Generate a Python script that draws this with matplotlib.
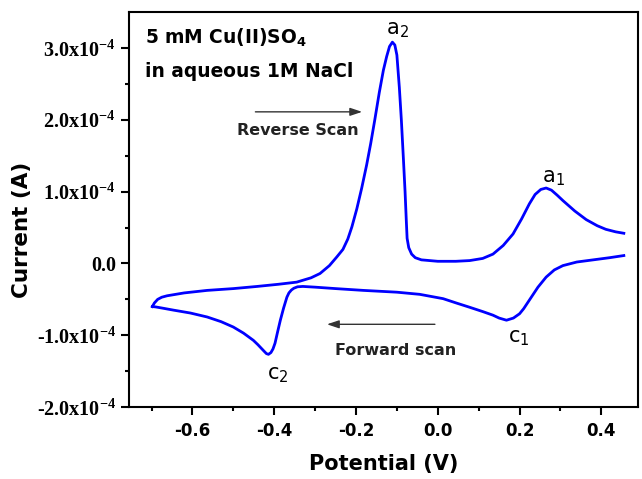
import numpy as np
import matplotlib
matplotlib.use('Agg')
import matplotlib.pyplot as plt

plt.rcParams['font.family'] = ['DejaVu Sans']
plt.rcParams['mathtext.fontset'] = 'custom'
plt.rcParams['mathtext.rm'] = 'Liberation Serif:bold'
plt.rcParams['mathtext.sf'] = 'DejaVu Sans'
plt.rcParams['mathtext.bf'] = 'DejaVu Sans:bold'

# forward (cathodic) scan, potential in V, current in 1e-4 A
fwd_v = [0.455, 0.42, 0.38, 0.34, 0.306, 0.285, 0.265, 0.245, 0.224, 0.21, 0.2, 0.185,
         0.168, 0.15, 0.135, 0.11, 0.078, 0.045, 0.013, -0.044, -0.1, -0.182, -0.25,
         -0.30, -0.33, -0.343, -0.352, -0.358, -0.364, -0.369, -0.377, -0.385, -0.392,
         -0.398, -0.403, -0.408, -0.414, -0.419, -0.425, -0.44, -0.451, -0.475, -0.5,
         -0.53, -0.564, -0.605, -0.646, -0.675, -0.69, -0.698]
fwd_i = [0.11, 0.08, 0.05, 0.02, -0.03, -0.09, -0.19, -0.33, -0.51, -0.63, -0.70, -0.76,
         -0.79, -0.76, -0.72, -0.67, -0.61, -0.55, -0.49, -0.43, -0.40, -0.375, -0.35,
         -0.33, -0.32, -0.325, -0.345, -0.37, -0.41, -0.47, -0.62, -0.79, -0.96,
         -1.11, -1.19, -1.24, -1.265, -1.255, -1.22, -1.13, -1.07, -0.97, -0.885,
         -0.81, -0.745, -0.69, -0.65, -0.62, -0.605, -0.60]

# reverse (anodic) scan
rev_v = [-0.698, -0.693, -0.685, -0.675, -0.662, -0.62, -0.564, -0.5, -0.442, -0.39,
         -0.345, -0.31, -0.288, -0.265, -0.247, -0.232, -0.22, -0.21, -0.198, -0.186,
         -0.174, -0.164, -0.154, -0.143, -0.133, -0.125, -0.118, -0.111, -0.105, -0.1,
         -0.094, -0.089, -0.084, -0.08, -0.077, -0.075, -0.071, -0.064, -0.055, -0.04,
         0.0, 0.044, 0.078, 0.11, 0.135, 0.16, 0.184, 0.205, 0.224, 0.238, 0.252, 0.265,
         0.278, 0.292, 0.306, 0.335, 0.363, 0.39, 0.411, 0.435, 0.455]
rev_i = [-0.60, -0.55, -0.50, -0.47, -0.45, -0.41, -0.375, -0.35, -0.32, -0.29,
         -0.26, -0.20, -0.14, -0.03, 0.09, 0.195, 0.34, 0.51, 0.76, 1.05,
         1.37, 1.67, 2.0, 2.38, 2.69, 2.88, 3.02, 3.08, 3.04, 2.9,
         2.45, 1.99, 1.45, 1.0, 0.6, 0.35, 0.22, 0.13, 0.08, 0.05,
         0.03, 0.03, 0.04, 0.07, 0.13, 0.25, 0.41, 0.62, 0.83, 0.96, 1.03, 1.05,
         1.02, 0.95, 0.875, 0.73, 0.61, 0.525, 0.475, 0.44, 0.42]

yticks = [-2e-4, -1e-4, 0.0, 1e-4, 2e-4, 3e-4]
ylabels = ['-2.0x10$^{\\mathrm{-4}}$', '-1.0x10$^{\\mathrm{-4}}$', '0.0',
           '1.0x10$^{\\mathrm{-4}}$', '2.0x10$^{\\mathrm{-4}}$', '3.0x10$^{\\mathrm{-4}}$']
xticks = [-0.6, -0.4, -0.2, 0.0, 0.2, 0.4]
xlabels = ['-0.6', '-0.4', '-0.2', '0.0', '0.2', '0.4']

fig = plt.figure(figsize=(6.42, 4.79), dpi=100)
ax = fig.add_axes([0.201, 0.150, 0.793, 0.825])

ax.plot(fwd_v, np.array(fwd_i) * 1e-4, color='#0000ff', lw=2)
ax.plot(rev_v, np.array(rev_i) * 1e-4, color='#0000ff', lw=2)

ax.set_xlim(-0.755, 0.49)
ax.set_ylim(-2.0e-4, 3.5e-4)
ax.set_xticks(xticks)
ax.set_xticklabels(xlabels, fontweight='bold', fontsize=12)
ax.set_xticks(np.arange(-0.7, 0.45, 0.1), minor=True)
ax.set_yticks(yticks)
ax.set_yticklabels(ylabels, fontsize=14.5, family='Liberation Serif', fontweight='bold')
ax.set_yticks(np.arange(-1.5e-4, 3.5e-4, 1e-4), minor=True)
ax.tick_params(which='major', direction='out', length=6, width=1.5)
ax.tick_params(axis='x', which='major', pad=5)
ax.tick_params(which='minor', direction='out', length=3, width=1.5)
for s in ax.spines.values():
    s.set_linewidth(1.5)

ax.set_xlabel('Potential (V)', fontsize=15, fontweight='bold', labelpad=10)
ax.set_ylabel('Current (A)', fontsize=15.5, fontweight='bold')
ax.yaxis.set_label_coords(-0.19, 0.448)

ax.text(-0.715, 3.065e-4, r'5 mM Cu(II)SO$_\mathbf{4}$', fontsize=13.4, fontweight='bold')
ax.text(-0.715, 2.59e-4, 'in aqueous 1M NaCl', fontsize=13.4, fontweight='bold')

arrow = dict(arrowstyle='-|>,head_length=0.6,head_width=0.2', color='#333333', lw=1,
             shrinkA=0, shrinkB=0, mutation_scale=12)
ax.annotate('', xy=(-0.185, 2.11e-4), xytext=(-0.446, 2.11e-4), arrowprops=arrow)
ax.text(-0.49, 1.79e-4, 'Reverse Scan', fontsize=11.5, fontweight='bold', color='#222222')
ax.annotate('', xy=(-0.271, -0.847e-4), xytext=(-0.007, -0.847e-4), arrowprops=arrow)
ax.text(-0.251, -1.28e-4, 'Forward scan', fontsize=11.5, fontweight='bold', color='#222222')

ax.text(-0.127, 3.19e-4, r'a$_\mathsf{2}$', fontsize=15)
ax.text(0.256, 1.125e-4, r'a$_\mathsf{1}$', fontsize=15)
ax.text(0.171, -1.10e-4, r'c$_\mathsf{1}$', fontsize=15)
ax.text(-0.417, -1.62e-4, r'c$_\mathsf{2}$', fontsize=15)

fig.savefig('out.png', dpi=100)
